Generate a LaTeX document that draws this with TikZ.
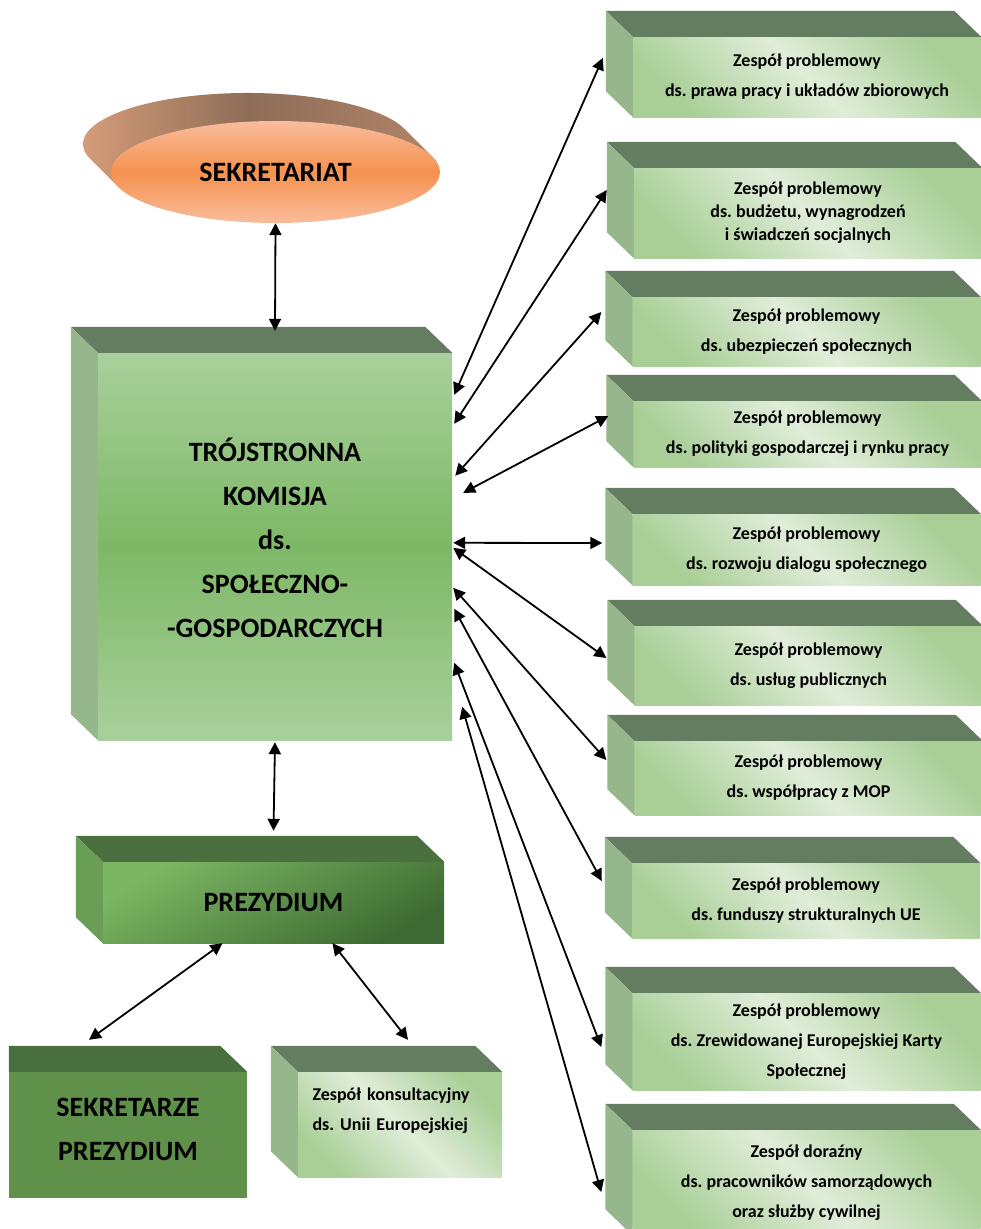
\documentclass[tikz,border=0pt]{standalone}
\usepackage{fontspec}
\setmainfont{Carlito}
\usetikzlibrary{arrows.meta,calc,shapes.geometric}

\definecolor{topgreen}{HTML}{647D60}
\definecolor{sidegreen}{HTML}{95B78B}
\definecolor{palegreen}{HTML}{E0EDD9}
\definecolor{softgreen}{HTML}{A9CF97}
\definecolor{maingreen}{HTML}{7DB866}
\definecolor{mainedge}{HTML}{A9D09C}
\definecolor{deepgreen}{HTML}{4A7040}
\definecolor{prezside}{HTML}{6A9E57}
\definecolor{prezlight}{HTML}{7CB662}
\definecolor{prezdark}{HTML}{3D6A32}
\definecolor{sekzgreen}{HTML}{5F914A}
\definecolor{orangemid}{HTML}{F5924F}
\definecolor{orangeedge}{HTML}{F9BC9B}
\definecolor{brownlight}{HTML}{DDA27C}
\definecolor{browndark}{HTML}{8E6D58}
\definecolor{brownright}{HTML}{B08468}

\newcommand{\boxfaces}[3]{%
  \fill[#2] (#1.north west) -- (#1.north east) -- ($(#1.north east)+(-27,-26)$) -- ($(#1.north west)+(-27,-26)$) -- cycle;
  \fill[#3] (#1.north west) -- (#1.south west) -- ($(#1.south west)+(-27,-26)$) -- ($(#1.north west)+(-27,-26)$) -- cycle;}

\tikzset{
  link/.style={{Triangle[length=12pt,width=12pt]}-{Triangle[length=12pt,width=12pt]}, line width=1.8pt},
  team/.style={inner sep=0, minimum width=348, align=center, font=\fontsize{18}{30}\selectfont\bfseries\frenchspacing,
    left color=softgreen, right color=softgreen, middle color=palegreen, shading angle=-45},
  bigtext/.style={inner sep=0, align=center, font=\fontsize{28}{44}\selectfont\bfseries}
}

\begin{document}
\begin{tikzpicture}[x=1pt, y=-1pt]
  \useasboundingbox (0,0) rectangle (981,1229);

  \node[ellipse, inner sep=0, minimum width=329, minimum height=102] (sek) at (275.5,172) {};
  \shade[left color=brownlight, right color=brownright, middle color=browndark]
    ($(sek.center)+(157.1,-15.1)$) -- ($(sek.center)+(129.1,-43.1)$)
    arc[start angle=-17.2, end angle=-197.2, x radius=164.5, y radius=51]
    -- ($(sek.center)+(-157.1,15.1)$) -- cycle;
  \node[ellipse, inner sep=0, minimum width=329, minimum height=102, top color=orangeedge, bottom color=orangeedge,
    middle color=orangemid, font=\fontsize{28}{34}\selectfont\bfseries] at (sek) {SEKRETARIAT};

  \node[bigtext, minimum width=354, minimum height=387, text depth=17pt, top color=mainedge, bottom color=mainedge, middle color=maingreen]
    (tk) at (275,546.5) {TRÓJSTRONNA\\KOMISJA\\ds.\\SPOŁECZNO-\\-GOSPODARCZYCH};
  \boxfaces{tk}{topgreen}{sidegreen}

  \node[bigtext, minimum width=341, minimum height=81, left color=prezlight, right color=prezdark, shading angle=30]
    (prez) at (273.5,902.5) {PREZYDIUM};
  \boxfaces{prez}{deepgreen}{prezside}

  \node[bigtext, minimum width=238, minimum height=126, text depth=12pt, fill=sekzgreen] (sekz) at (128,1135) {SEKRETARZE\\PREZYDIUM};
  \fill[deepgreen] (sekz.north west) -- (sekz.north east) -- ($(sekz.north east)+(-27,-26)$) -- ($(sekz.north west)+(0,-26)$) -- cycle;

  \node[team, minimum width=204, minimum height=105, align=left, text width=175] (kons) at (400,1124.5)
    {Zespół konsultacyjny\\ds. Unii Europejskiej\\ \mbox{}};
  \boxfaces{kons}{topgreen}{sidegreen}

  \node[team, minimum height=80] (p1) at (807,77) {Zespół problemowy\\ds. prawa pracy i układów zbiorowych};
  \node[team, minimum height=90, font=\fontsize{18}{23}\selectfont\bfseries\frenchspacing] (p2) at (808,213) {Zespół problemowy\\ds. budżetu, wynagrodzeń\\i świadczeń socjalnych};
  \node[team, minimum height=69] (p3) at (806.5,331.5) {Zespół problemowy\\ds. ubezpieczeń społecznych};
  \node[team, minimum height=66] (p4) at (807.5,434) {Zespół problemowy\\ds. polityki gospodarczej i rynku pracy};
  \node[team, minimum height=71] (p5) at (806.5,549.5) {Zespół problemowy\\ds. rozwoju dialogu społecznego};
  \node[team, minimum height=79] (p6) at (808.5,665.5) {Zespół problemowy\\ds. usług publicznych};
  \node[team, minimum height=74] (p7) at (808.5,778) {Zespół problemowy\\ds. współpracy z MOP};
  \node[team, minimum height=75] (p8) at (806,900.5) {Zespół problemowy\\ds. funduszy strukturalnych UE};
  \node[team, minimum height=97] (p9) at (806.5,1041.5) {Zespół problemowy\\ds. Zrewidowanej Europejskiej Karty\\Społecznej};
  \node[team, minimum height=105] (p10) at (806.5,1182.5) {Zespół doraźny\\ds. pracowników samorządowych\\oraz służby cywilnej};
  \foreach \n in {p1,p2,p3,p4,p5,p6,p7,p8,p9,p10}
    \boxfaces{\n}{topgreen}{sidegreen};

  \draw[link] (sek.south) -- ($(tk.north)+(0,-22)$);
  \draw[link] (tk.south) ++(0,2) -- ($(prez.north)+(0,-31)$);
  \draw[link] ($(prez.south)+(-51,0)$) -- ($(sekz.north)+(-39,-32)$);
  \draw[link] ($(prez.south)+(59,0)$) -- ($(kons.north)+(8,-32)$);

  \foreach \i/\a/\b/\c/\d in {1/2/42/-30/-19, 2/2/71/-27/-23, 3/3/123/-31/-19.5, 4/11/140/-25/-18,
      5/1/190/-30/-6.5, 6/1/195/-28/-7.5, 7/1/235/-28/-18, 8/2/256/-30/-19.5, 9/2/310/-31/5.5, 10/10/354/-31/9.5}
    \draw[link] ($(tk.north east)+(\a,\b)$) -- ($(p\i.west)+(\c,\d)$);
\end{tikzpicture}
\end{document}
